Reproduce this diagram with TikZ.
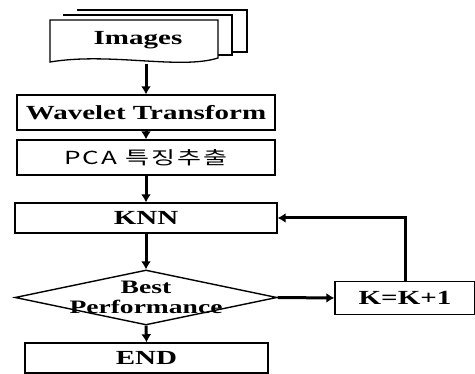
\documentclass[tikz,border=0pt]{standalone}
\usepackage{fontspec}
\setmainfont{Liberation Serif}[FakeStretch=1.45]
\newfontfamily\kofont{Noto Sans CJK KR}[FakeStretch=1.45,LetterSpace=12]
\usetikzlibrary{arrows.meta, shapes.geometric}

\tikzset{
  hop/.style={draw, line width=1.4pt, minimum height=35pt, inner sep=0pt,
    font=\fontsize{20}{22}\selectfont\bfseries},
  thoi/.style={draw, diamond, line width=1.4pt, inner sep=0pt, minimum width=262pt, minimum height=55pt},
  mui/.style={line width=3pt, -{Latex[length=8pt, width=10pt]}}
}

\begin{document}
\begin{tikzpicture}[x=1pt, y=-1pt]
\useasboundingbox (0,0) rectangle (475,374);

% Chồng ảnh (ba trang giấy)
\draw[line width=1.3pt, fill=white] (77,10) -- (247,10) -- (247,52) -- (232,52);
\draw[line width=1.3pt, fill=white] (63,15) -- (232,15) -- (232,55) -- (218,55);
\draw[line width=1.3pt, fill=white] (50,20) -- (218,20) -- (218,58)
  .. controls (180,70) and (110,52) .. (50,62) -- cycle;
\node[font=\fontsize{20}{22}\selectfont\bfseries] (img) at (138,40) {Images};
\coordinate (imgbot) at (146,64);

% Các bước xử lý
\node[hop, minimum width=258pt] (wave) at (146,112.5) {Wavelet Transform};
\node[hop, minimum width=258pt, font=\kofont\fontsize{18}{20}\selectfont] (pca) at (146,157.5) {PCA 특징추출};
\node[hop, minimum width=262pt, minimum height=30pt] (knn) at (146,218) {KNN};

% Khối điều kiện
\node[thoi] (best) at (146,297.5) {};
\node[align=center, inner sep=0pt, font=\fontsize{19}{20}\selectfont\bfseries] (besttxt) at (best) {Best\\Performance};

% Tăng K và kết thúc
\node[hop, minimum width=140pt, minimum height=33pt] (kinc) at (405,298) {K=K+1};
\node[hop, minimum width=243pt, minimum height=30pt] (end) at (146.5,358) {END};

% Mũi tên
\draw[mui] (imgbot) -- (wave.north);
\draw[mui] (wave.south) -- (pca.north);
\draw[mui] (pca.south) -- (knn.north);
\draw[mui] (knn.south) -- (best.north);
\draw[mui] (best.south) -- (end.north);
\draw[mui] (best.east) -- (kinc.west);
\draw[mui] (kinc.north) |- (knn.east);
\end{tikzpicture}
\end{document}
